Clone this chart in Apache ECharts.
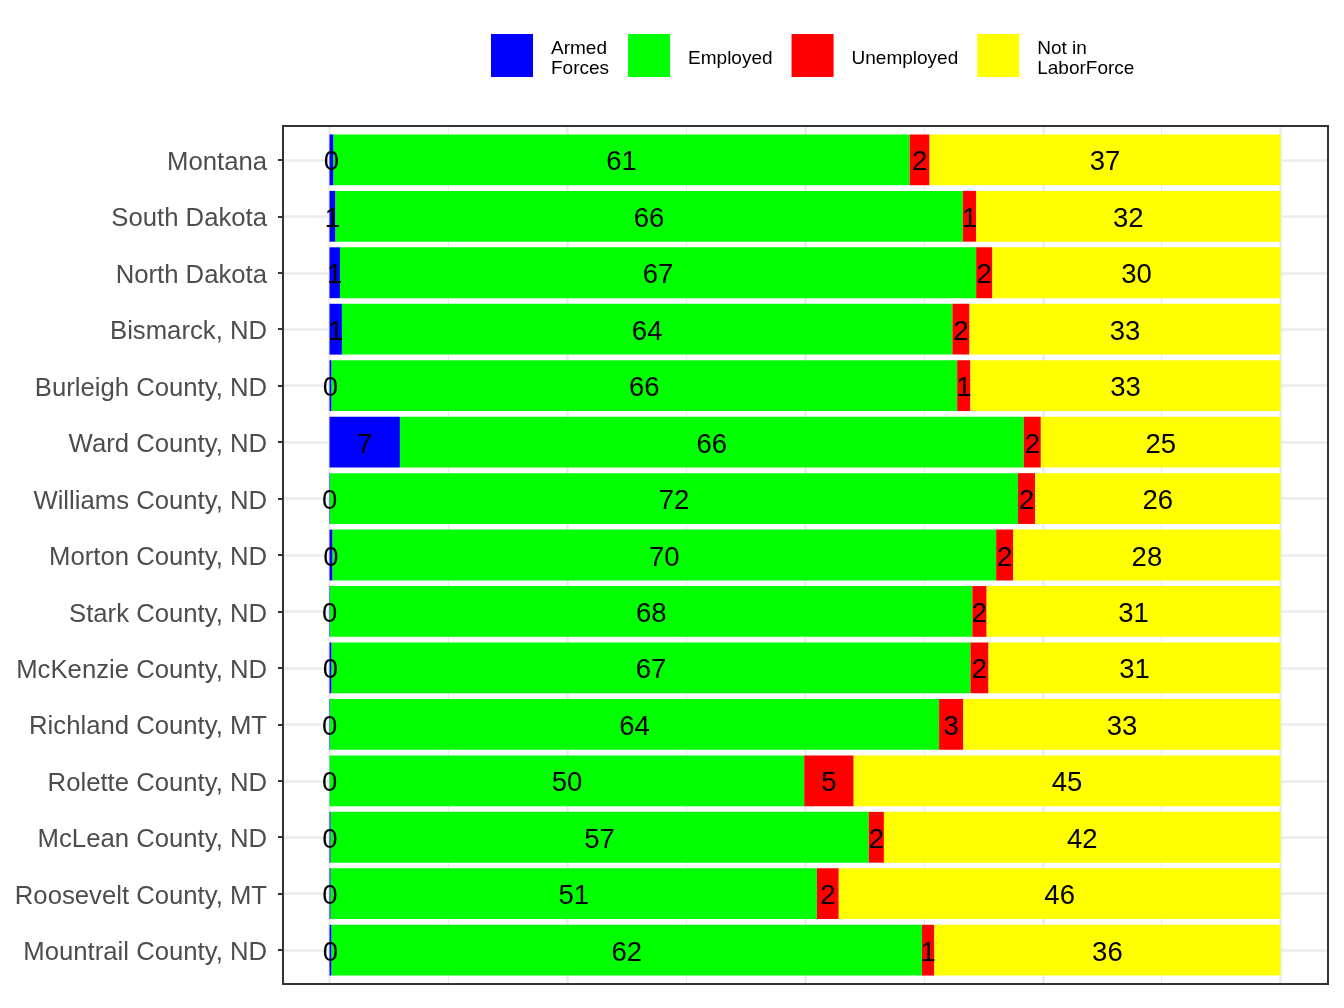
<!DOCTYPE html>
<html lang="en">
<head>
  <meta charset="utf-8" />
  <title>Labor force status</title>
  <script src="https://cdn.jsdelivr.net/npm/echarts@6/dist/echarts.min.js"></script>
  <style>
    html, body { margin: 0; padding: 0; background: #fff; }
  </style>
</head>
<body>
  <div id="main" style="width: 1344px;height:1008px;"></div>
  <script>
    // places, top to bottom
    var places = ['Montana', 'South Dakota', 'North Dakota', 'Bismarck, ND', 'Burleigh County, ND',
      'Ward County, ND', 'Williams County, ND', 'Morton County, ND', 'Stark County, ND',
      'McKenzie County, ND', 'Richland County, MT', 'Rolette County, ND', 'McLean County, ND',
      'Roosevelt County, MT', 'Mountrail County, ND'];

    // percent of population 16+
    var armedForces = [0.4, 0.6, 1.1, 1.3, 0.2, 7.4, 0.05, 0.3, 0.05, 0.2, 0.05, 0.02, 0.1, 0.1, 0.2];
    var employed    = [60.6, 66.0, 66.9, 64.2, 65.8, 65.6, 72.35, 69.8, 67.55, 67.2, 64.05, 49.9, 56.6, 51.15, 62.1];
    var unemployed  = [2.1, 1.4, 1.7, 1.8, 1.4, 1.8, 1.8, 1.8, 1.5, 1.9, 2.55, 5.2, 1.6, 2.3, 1.3];
    var notInLabor  = [36.9, 32.0, 30.3, 32.7, 32.6, 25.2, 25.8, 28.1, 30.9, 30.7, 33.35, 44.9, 41.7, 46.45, 36.4];

    var seriesNames = ['Armed\nForces', 'Employed', 'Unemployed', 'Not in\nLaborForce'];
    var seriesColors = ['#0000FF', '#00FF00', '#FF0000', '#FFFF00'];
    var seriesData = [armedForces, employed, unemployed, notInLabor];

    var font = 'Liberation Sans, Arial, sans-serif';
    var gridColor = '#EBEBEB';

    var chart = echarts.init(document.getElementById('main'));

    var series = seriesData.map(function (d, i) {
      return {
        name: seriesNames[i],
        type: 'bar',
        stack: 'total',
        xAxisIndex: 2,
        yAxisIndex: 2,
        barCategoryGap: '10%',
        z: i === 0 ? 6 : 3,
        itemStyle: { color: seriesColors[i] },
        label: {
          show: true,
          position: 'inside',
          offset: [0, 3],
          color: '#000',
          fontSize: 27.5,
          fontFamily: font,
          formatter: function (p) { return Math.round(p.value); }
        },
        data: d
      };
    });

    var option = {
      animation: false,
      backgroundColor: '#fff',
      legend: {
        data: seriesNames,
        top: 33,
        left: 491,
        padding: 0,
        itemWidth: 42,
        itemHeight: 43,
        itemGap: 19,
        icon: 'rect',
        formatter: function (name) {
          return name.split('\n').map(function (line) {
            return '{a|' + line + '}';
          }).join('\n');
        },
        textStyle: {
          fontSize: 19,
          color: '#000',
          fontFamily: font,
          rich: {
            a: { fontSize: 19, lineHeight: 20, color: '#000', fontFamily: font, padding: [6, 0, 0, 13] }
          }
        }
      },
      grid: [
        // category centres: y ticks, labels, horizontal grid lines
        { left: 283, right: 16, top: 159.9, bottom: 57.9 },
        // 0..100 range, full panel height: vertical grid lines
        { left: 329.5, right: 63.5, top: 126, bottom: 24 },
        // bars
        { left: 329.5, right: 63.5, top: 131.6, bottom: 29.6 }
      ],
      xAxis: [
        { gridIndex: 0, type: 'value', min: 0, max: 1, show: false },
        {
          gridIndex: 1, type: 'value', min: 0, max: 100, interval: 25,
          axisLine: { show: false }, axisTick: { show: false }, axisLabel: { show: false },
          splitLine: { show: true, lineStyle: { color: gridColor, width: 2.5 } },
          minorTick: { show: false, splitNumber: 2 },
          minorSplitLine: { show: true, lineStyle: { color: gridColor, width: 1.2 } }
        },
        { gridIndex: 2, type: 'value', min: 0, max: 100, show: false }
      ],
      yAxis: [
        {
          gridIndex: 0, type: 'category', data: places, inverse: true, boundaryGap: false,
          axisLine: { show: false },
          axisTick: { show: true, length: 5, lineStyle: { color: '#333', width: 2 } },
          axisLabel: {
            margin: 16,
            formatter: function (v) { return '{a|' + v + '}'; },
            rich: {
              a: { fontSize: 25.7, color: '#4D4D4D', fontFamily: font, padding: [6, 0, 0, 0] }
            }
          },
          splitLine: { show: true, lineStyle: { color: gridColor, width: 2.5 } }
        },
        { gridIndex: 1, type: 'value', show: false },
        { gridIndex: 2, type: 'category', data: places, inverse: true, show: false }
      ],
      graphic: [{
        type: 'rect',
        z: 100,
        silent: true,
        shape: { x: 283, y: 126, width: 1045, height: 858 },
        style: { fill: null, stroke: '#333', lineWidth: 2 }
      }],
      series: series
    };

    chart.setOption(option);
  </script>
</body>
</html>
